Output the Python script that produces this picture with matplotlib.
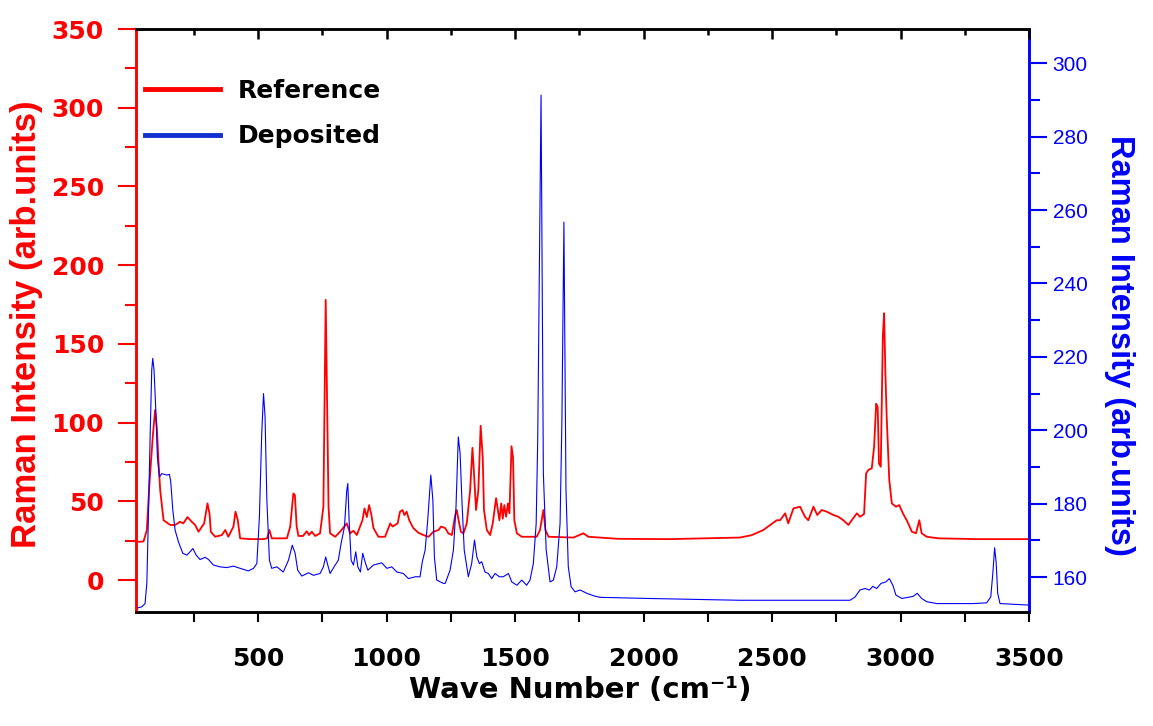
import matplotlib
matplotlib.use("Agg")
import matplotlib.pyplot as plt
from matplotlib.lines import Line2D
from matplotlib.markers import TICKDOWN
from matplotlib.ticker import MultipleLocator

# Reference spectrum (left axis)
ref_wavenumber = [28, 54, 67, 77, 90, 99, 106, 112, 119, 132, 158, 177, 196, 209, 225,
                  242, 255, 268, 290, 303, 311, 316, 333, 359, 372, 384, 404, 412, 421,
                  430, 469, 521, 535, 544, 553, 612, 625, 637, 643, 650, 657, 675, 689,
                  698, 709, 722, 741, 754, 763, 774, 780, 800, 819, 845, 858, 871, 884,
                  906, 914, 923, 932, 940, 949, 968, 994, 1014, 1023, 1043, 1052, 1062,
                  1069, 1078, 1088, 1104, 1124, 1143, 1163, 1182, 1202, 1212, 1228, 1240,
                  1254, 1267, 1273, 1279, 1289, 1299, 1312, 1325, 1334, 1340, 1348, 1357,
                  1366, 1374, 1379, 1390, 1403, 1413, 1426, 1433, 1439, 1446, 1452, 1458,
                  1465, 1472, 1478, 1486, 1492, 1497, 1507, 1526, 1584, 1597, 1610, 1618,
                  1630, 1727, 1766, 1785, 1831, 1900, 2100, 2375, 2420, 2466, 2518, 2531,
                  2551, 2563, 2583, 2609, 2628, 2641, 2661, 2676, 2693, 2713, 2739, 2758,
                  2777, 2797, 2810, 2830, 2842, 2858, 2866, 2875, 2888, 2897, 2905, 2911,
                  2916, 2923, 2931, 2936, 2941, 2946, 2956, 2966, 2982, 2995, 3009, 3024,
                  3044, 3060, 3073, 3082, 3102, 3147, 3300, 3500]
ref_intensity = [24.3, 24.5, 31.8, 61, 91, 108, 96.6, 76, 57, 38, 35, 35, 37, 36, 40,
                 37, 35, 30.7, 36, 48.7, 42, 30.7, 27.5, 28.6, 31.8, 27.5, 34, 43.4, 38,
                 26.5, 26, 26, 26.5, 31.8, 26.5, 26.5, 34, 55, 54, 34, 28, 28, 31,
                 28.6, 30.7, 28, 29.7, 46.6, 178, 46.6, 29.7, 27.5, 30.7, 36, 29.7, 31.3, 28.6,
                 38, 45.5, 40, 47.6, 42, 33, 27.5, 27.5, 36, 34, 36, 43.4, 44.5,
                 41.3, 43.4, 38, 33, 30, 28.6, 27.5, 30.7, 31.8, 34, 33, 29.7,
                 28.6, 41.3, 44.5, 39, 30.7, 29.7, 36, 57, 84, 68, 44.5, 57,
                 98, 78, 44.5, 31.8, 28.6, 36, 52, 44.5, 38, 48.7, 39, 47.6,
                 40.2, 48.7, 42.4, 85, 78, 38, 29.7, 27.5, 27.5, 31.8, 44.5, 31.8,
                 27.5, 27, 29.7, 27.5, 27, 26.2, 26, 27, 28.5, 31.8, 38, 38,
                 42.4, 36, 45.5, 46.6, 40.2, 38, 46.6, 41.3, 44.5, 43.4, 41.3, 40.2,
                 38, 35, 38, 42.4, 40.2, 42, 67.8, 70, 71, 84.7, 112, 110,
                 74, 72, 155, 169.5, 131, 104, 63.5, 48.7, 46.6, 47.6, 42.4, 38,
                 30.7, 29.7, 38, 29.7, 27.5, 26.5, 26, 26]

# Deposited film spectrum (right axis)
dep_wavenumber = [30, 47, 60, 67, 73, 80, 86, 90, 95, 103, 108, 116, 125, 145, 155, 160,
                  168, 177, 190, 207, 223, 235, 246, 259, 274, 294, 307, 326, 352, 378,
                  404, 430, 462, 482, 495, 505, 514, 521, 527, 534, 544, 553, 573, 598,
                  618, 633, 644, 654, 670, 696, 715, 741, 754, 763, 771, 780, 800, 812,
                  823, 836, 845, 849, 854, 862, 871, 880, 888, 898, 907, 916, 927, 949,
                  981, 1001, 1020, 1040, 1065, 1085, 1111, 1130, 1139, 1150, 1160, 1172,
                  1180, 1186, 1195, 1221, 1228, 1247, 1260, 1270, 1279, 1286, 1293, 1302,
                  1318, 1331, 1342, 1351, 1361, 1370, 1383, 1396, 1409, 1422, 1439, 1454,
                  1474, 1487, 1507, 1526, 1545, 1558, 1571, 1582, 1588, 1601, 1610, 1621,
                  1636, 1649, 1662, 1675, 1682, 1690, 1698, 1707, 1718, 1733, 1753, 1779,
                  1811, 1831, 2012, 2375, 2803, 2823, 2842, 2862, 2879, 2892, 2907, 2924,
                  2943, 2956, 2970, 2982, 3005, 3030, 3050, 3065, 3082, 3102, 3141, 3193,
                  3283, 3335, 3351, 3359, 3366, 3372, 3378, 3387, 3439, 3497]
dep_intensity = [151.6, 151.9, 152.8, 158.3, 176.4, 199, 216.4, 219.6, 216.4, 203.7, 192.8,
                 187.3, 188.2, 187.8, 188, 186, 178.3, 172.8, 169.6, 166.5, 166, 166.9,
                 167.8, 166, 164.8, 165.4, 164.8, 163.3, 162.8, 162.6, 163, 162.4, 161.7,
                 162.4, 163.7, 176.4, 199, 210, 203.7, 181, 164.6, 162.4, 162.8, 161.4,
                 164.6, 168.7, 166.5, 161.9, 160.3, 161.2, 160.5, 161, 162.8, 165.5, 163.3,
                 161, 163.3, 164.6, 169.2, 173.7, 183.7, 185.5, 175.5, 164.6, 163.3, 166.9,
                 162.8, 161.4, 166.5, 164.2, 161.9, 163.3, 163.9, 162.4, 162.8, 161.4, 161,
                 159.6, 160.1, 160.1, 164.2, 167.4, 175.5, 187.8, 181, 165.5, 159.2, 158.3,
                 158.3, 161.9, 167.4, 179.1, 198.2, 193.7, 181, 167.4, 160.1, 163.7, 170.1,
                 165.5, 163.7, 164.2, 161.4, 161, 159.6, 161, 160.1, 160.1, 161, 158.7,
                 157.8, 159.2, 157.8, 159.2, 163.7, 174.6, 197.3, 291.3, 188.2, 167.4,
                 158.7, 159.2, 162.8, 174.6, 201.9, 256.7, 183.7, 162.8, 157.4, 156, 156.5,
                 155.6, 154.8, 154.5, 154.2, 153.7, 153.7, 154.6, 156.5, 156.9, 156.5,
                 157.5, 156.9, 158.3, 158.7, 159.6, 157.8, 155.1, 154.2, 154.5, 154.8,
                 155.6, 154.2, 153.3, 152.8, 152.8, 152.8, 153, 154.6, 161, 168, 164,
                 155.6, 152.8, 152.6, 152.4]

x_ticks = [500, 1000, 1500, 2000, 2500, 3000, 3500]
x_minor_ticks = [250, 750, 1250, 1750, 2250, 2750, 3250]
left_ticks = [0, 50, 100, 150, 200, 250, 300, 350]
right_ticks = [160, 180, 200, 220, 240, 260, 280, 300]

RED = "#ff0000"
BLUE = "#0000ff"

fig = plt.figure(figsize=(11.53, 7.26), dpi=100)
ax = fig.add_axes([0.118, 0.157, 0.7745, 0.803])
ax2 = ax.twinx()

ax.plot(ref_wavenumber, ref_intensity, color=RED, lw=1.3, zorder=3)
ax2.plot(dep_wavenumber, dep_intensity, color=BLUE, lw=0.8, zorder=2)

ax.set_xlim(25, 3500)
ax.set_ylim(-20.3, 350)
ax2.set_ylim(150.5, 309.3)

ax.set_xticks(x_ticks)
ax.set_xticks(x_minor_ticks, minor=True)
ax.set_yticks(left_ticks)
ax.yaxis.set_minor_locator(MultipleLocator(25))
ax2.set_yticks(right_ticks)
ax2.yaxis.set_minor_locator(MultipleLocator(10))

for lab in ax.get_xticklabels():
    lab.set_fontproperties({"family": "DejaVu Sans", "weight": "bold", "size": 18})
for lab in ax.get_yticklabels():
    lab.set_fontproperties({"family": "DejaVu Sans", "weight": "bold", "size": 18})
    lab.set_color(RED)
for lab in ax2.get_yticklabels():
    lab.set_fontproperties({"family": "Liberation Sans", "size": 15})
    lab.set_color(BLUE)

ax.tick_params(axis="x", which="both", direction="out", length=7, width=1.5,
               pad=18, top=False, colors="black")
ax.tick_params(axis="y", which="major", direction="out", length=13, width=1.5,
               pad=10, colors=RED)
ax.tick_params(axis="y", which="minor", direction="out", length=8, width=1.5, colors=RED)
ax2.tick_params(axis="y", which="major", direction="out", length=13, width=1.5,
                pad=4, colors=BLUE)
ax2.tick_params(axis="y", which="minor", direction="out", length=8, width=1.5, colors=BLUE)

for a in (ax, ax2):
    a.spines["left"].set_color(RED)
    a.spines["right"].set_color(BLUE)
    a.spines["top"].set_color("black")
    a.spines["bottom"].set_color("black")
    for s in a.spines.values():
        s.set_linewidth(1.8)

# inward tick marks hanging from the top edge
top_tf = ax2.get_xaxis_transform()
ax2.plot(x_ticks, [1] * len(x_ticks), transform=top_tf, linestyle="none",
         marker=TICKDOWN, markersize=7.5, markeredgewidth=1.8, color="black",
         clip_on=False, zorder=5)
ax2.plot(x_minor_ticks, [1] * len(x_minor_ticks), transform=top_tf, linestyle="none",
         marker=TICKDOWN, markersize=4, markeredgewidth=1.8, color="black",
         clip_on=False, zorder=5)

fig.text(27 / 1153, 1 - 324 / 726, "Raman Intensity (arb.units)", rotation=90,
         ha="center", va="center", color=RED, family="Liberation Sans",
         weight="bold", size=25)
fig.text(1119 / 1153, 1 - 345 / 726, "Raman Intensity (arb.units)", rotation=270,
         ha="center", va="center", color=BLUE, family="Liberation Sans",
         weight="bold", size=23.5)
fig.text(580 / 1153, 1 - 690 / 726, "Wave Number (cm\u207b\u00b9)", ha="center",
         va="center", color="black", family="DejaVu Sans", weight="bold", size=21)

handles = [Line2D([], [], color=RED, lw=3.5), Line2D([], [], color="#1030d0", lw=3.5)]
ax.legend(handles, ["Reference", "Deposited"], loc="upper left",
          bbox_to_anchor=((145 - 136) / 893, (612 - 79) / 583), frameon=False,
          borderpad=0, borderaxespad=0, handlelength=3.0, handletextpad=0.7,
          labelspacing=0.85, prop={"family": "DejaVu Sans", "weight": "bold", "size": 18})

fig.savefig("out.png", dpi=100)
